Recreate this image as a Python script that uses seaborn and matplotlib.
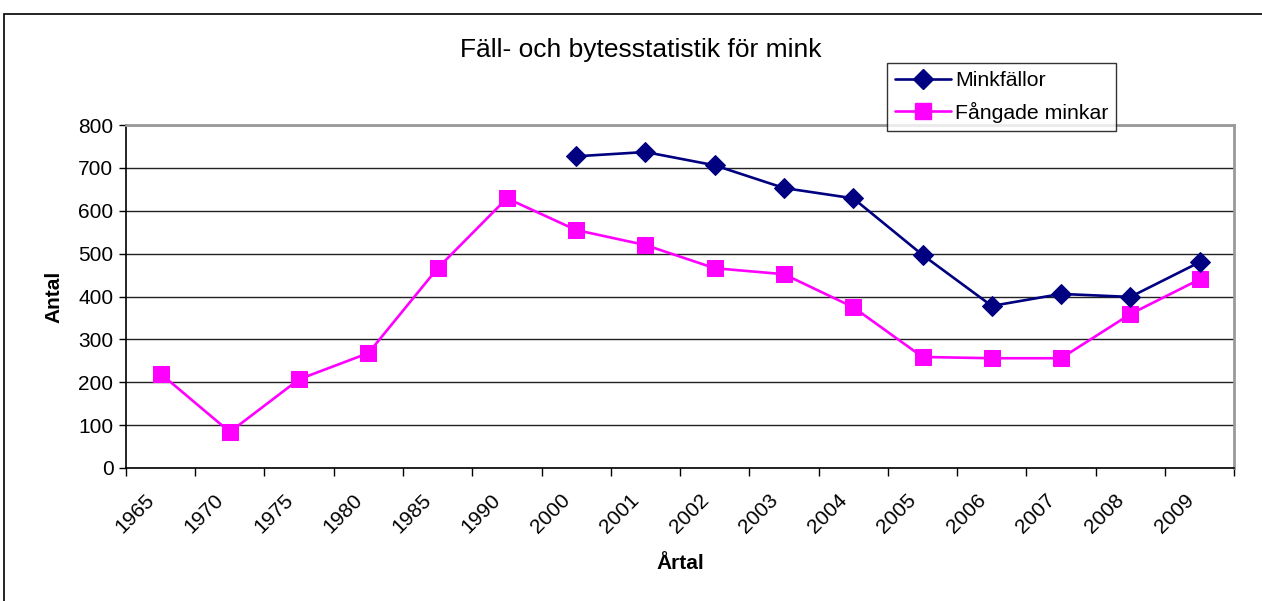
import pandas as pd
import matplotlib.pyplot as plt
import seaborn as sns
import numpy as np
from matplotlib.patches import Rectangle
from matplotlib.lines import Line2D
from matplotlib.transforms import ScaledTranslation

years = ['1965', '1970', '1975', '1980', '1985', '1990', '2000', '2001',
         '2002', '2003', '2004', '2005', '2006', '2007', '2008', '2009']
fangade = [220, 84, 207, 268, 466, 629, 555, 520, 466, 452, 375, 259, 256, 256, 359, 440]
fallor = [np.nan, np.nan, np.nan, np.nan, np.nan, np.nan,
          727, 737, 706, 653, 629, 497, 378, 406, 399, 480]

df = pd.concat([
    pd.DataFrame({'year': years, 'antal': fangade, 'serie': 'Fångade minkar'}),
    pd.DataFrame({'year': years, 'antal': fallor, 'serie': 'Minkfällor'}),
])
df['year'] = pd.Categorical(df['year'], categories=years, ordered=True)
df = df.dropna()

sns.set_style('white')
plt.rcParams['font.family'] = ['Liberation Sans', 'DejaVu Sans']
plt.rcParams['text.color'] = 'black'
plt.rcParams['axes.labelcolor'] = 'black'
plt.rcParams['xtick.color'] = 'black'
plt.rcParams['ytick.color'] = 'black'

fig = plt.figure(figsize=(12.62, 6.01), dpi=100)
ax = fig.add_axes([0.0998, 0.2213, 0.8782, 0.5707])

pal = {'Minkfällor': '#000080', 'Fångade minkar': '#FF00FF'}
mk = {'Minkfällor': 'D', 'Fångade minkar': 's'}
sns.lineplot(data=df, x='year', y='antal', hue='serie', style='serie',
             palette=pal, markers=mk, dashes=False, sort=False,
             linewidth=1.9, markersize=10, ax=ax, legend=False)

for ln in ax.get_lines():
    ln.set_markeredgecolor(ln.get_color())
    ln.set_markerfacecolor(ln.get_color())
    if ln.get_marker() == 's':
        ln.set_markersize(11)
    else:
        ln.set_markersize(10)

ax.set_xlim(-0.5, len(years) - 0.5)
ax.set_ylim(0, 800)
ax.set_yticks(range(0, 801, 100))
ax.yaxis.grid(True, color='#222222', linewidth=1.0)
ax.xaxis.grid(False)
ax.set_axisbelow(True)

ax.set_xticks(range(len(years)))
ax.set_xticklabels(years, rotation=45, ha='right', va='center', rotation_mode='anchor', fontsize=15)
ax.set_xticks(np.arange(-0.5, len(years), 1.0), minor=True)
ax.tick_params(axis='x', which='major', length=0, pad=14)
ax.tick_params(axis='x', which='minor', length=6, width=1, color='black', direction='out', bottom=True)
ax.tick_params(axis='y', length=5, width=1, color='black', direction='out', left=True, labelsize=15, pad=4)
shift = ScaledTranslation(-0.09, -0.10, fig.dpi_scale_trans)
for lab in ax.get_xticklabels():
    lab.set_transform(lab.get_transform() + shift)

for s in ['left', 'bottom']:
    ax.spines[s].set_color('black')
    ax.spines[s].set_linewidth(1.2)
for s in ['top', 'right']:
    ax.spines[s].set_color('#999999')
    ax.spines[s].set_linewidth(2)

ax.set_xlabel('Årtal', fontsize=15, fontweight='bold', labelpad=12)
ax.set_ylabel('Antal', fontsize=15, fontweight='bold', labelpad=11)

fig.text(0.508, 0.917, 'Fäll- och bytesstatistik för mink', ha='center', va='center', fontsize=19)

h = [Line2D([], [], color=pal[k], marker=mk[k], markersize=10 if k == 'Minkfällor' else 11,
            linewidth=1.9) for k in ['Minkfällor', 'Fångade minkar']]
leg = ax.legend(h, ['Minkfällor', 'Fångade minkar'], loc='upper left',
                bbox_to_anchor=(0.703, 0.895), bbox_transform=fig.transFigure,
                fontsize=15.3, frameon=True, fancybox=False, shadow=False,
                borderpad=0.38, labelspacing=0.55, handlelength=2.6, handletextpad=0.2,
                borderaxespad=0)
leg.get_frame().set_edgecolor('black')
leg.get_frame().set_linewidth(1)
leg.set_zorder(10)

fig.patches.append(Rectangle((0.003, -0.02), 1.0, 1.02 - 14 / 601, transform=fig.transFigure,
                             fill=False, edgecolor='black', linewidth=1.2))

fig.savefig('out.png', dpi=100)
